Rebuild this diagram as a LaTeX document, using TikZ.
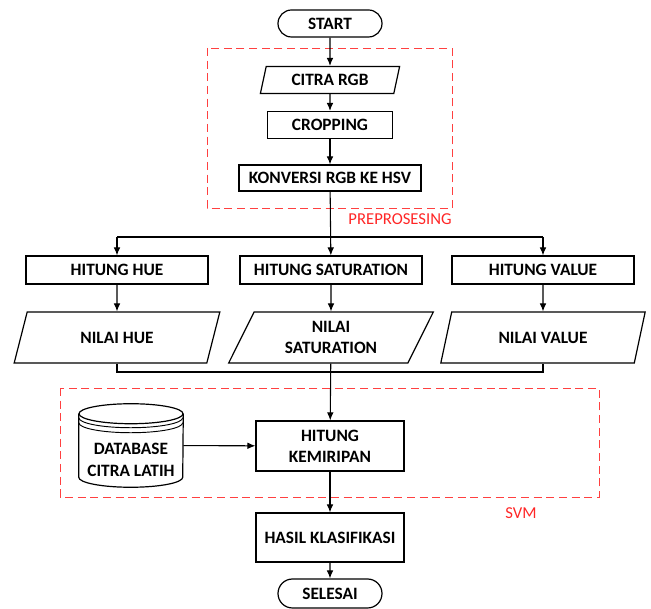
\documentclass[tikz,border=0pt]{standalone}
\usepackage{fontspec}
\setmainfont{Carlito}
\usetikzlibrary{positioning,calc,arrows.meta,shapes.geometric,shapes.misc}
\def\u{0.75pt}
\tikzset{
  arr/.style={-{Latex[length=6pt,width=5pt]},line width=0.8pt},
  link/.style={line width=0.8pt},
  procbox/.style={draw,line width=0.9pt,rectangle,align=center,inner sep=0pt},
  iobox/.style={draw,line width=0.9pt,trapezium,trapezium stretches=true,align=center,inner sep=0pt},
  termbox/.style={draw,line width=0.9pt,rounded rectangle,inner sep=0pt},
  zone/.style={draw=red!75,line width=0.7pt,dash pattern=on 6pt off 3.5pt},
  zonelabel/.style={text=red!85,font=\fontsize{12.5}{15}\selectfont},
}
\begin{document}
\begin{tikzpicture}[x=0.75pt,y=-0.75pt,font=\fontsize{13}{16}\selectfont\bfseries]
  \useasboundingbox (0,0) rectangle (651,609);
  % preprocessing
  \node[termbox,minimum width=104*\u,minimum height=27*\u] (start) at (330,23.5) {START};
  \node[iobox,trapezium left angle=73,trapezium right angle=107,minimum width=140*\u,minimum height=27*\u] (citra) at (330,80) {CITRA RGB};
  \node[procbox,minimum width=125*\u,minimum height=27*\u] (crop) at (330,125) {CROPPING};
  \node[procbox,minimum width=182*\u,minimum height=26*\u] (konv) at (330,178) {KONVERSI RGB KE HSV};
  \draw[zone] (207,48) rectangle (452,208);
  \node[zonelabel] (lprep) at (400,219) {PREPROSESING};
  \draw[arr] (start) -- (citra);
  \draw[arr] (citra) -- (crop);
  \draw[arr] (crop) -- (konv);
  % three channels
  \foreach \n/\x/\a/\b in {hue/117/{HITUNG HUE}/{NILAI HUE},sat/331/{HITUNG SATURATION}/{NILAI\\SATURATION},val/543/{HITUNG VALUE}/{NILAI VALUE}}{
    \node[procbox,minimum width=182*\u,minimum height=28*\u] (h\n) at (\x,270) {\a};
    \node[iobox,trapezium left angle=65,trapezium right angle=115,minimum width=206*\u,minimum height=51*\u] (n\n) at (\x,337.5) {\b};
    \draw[arr] (h\n) -- (n\n);
  }
  \coordinate (split) at (330,237);
  \coordinate (join) at (330,372);
  \draw[arr] (konv) -- (hsat);
  \draw[link] (hhue.north |- split) -- (hval.north |- split);
  \draw[arr] (hhue.north |- split) -- (hhue);
  \draw[arr] (hval.north |- split) -- (hval);
  \draw[link] (nhue.south) -- (nhue.south |- join) -- (nval.south |- join) -- (nval.south);
  % svm
  \draw[zone] (60,388) rectangle (599,497);
  \node[zonelabel] (lsvm) at (521,513) {SVM};
  \node[procbox,minimum width=148*\u,minimum height=50*\u] (kemir) at (330,446) {HITUNG\\KEMIRIPAN};
  \node[inner sep=0pt,minimum width=104*\u,minimum height=83*\u] (db) at (131,445.5) {};
  \node[align=center,inner sep=0pt] (dbtext) at (131,460) {DATABASE\\CITRA LATIH};
  \draw[line width=0.9pt] ($(db.north west)+(0,10)$) -- ($(db.south west)+(0,-10)$)
    arc[start angle=180,end angle=360,x radius=39pt,y radius=7.5pt] -- ($(db.north east)+(0,10)$);
  \draw[line width=0.9pt] ($(db.north)+(0,10)$) ellipse[x radius=39pt,y radius=7.5pt];
  \foreach \d in {14,19}
    \draw[line width=0.7pt] ($(db.north west)+(0,\d)$) arc[start angle=180,end angle=360,x radius=39pt,y radius=7.5pt];
  \draw[arr] (nsat) -- (kemir);
  \draw[arr] (db) -- (kemir);
  % result
  \node[procbox,minimum width=148*\u,minimum height=49*\u] (hasil) at (330,537.5) {HASIL KLASIFIKASI};
  \node[termbox,minimum width=104*\u,minimum height=29*\u] (selesai) at (330,593.5) {SELESAI};
  \draw[arr] (kemir) -- (hasil);
  \draw[arr] (hasil) -- (selesai);
\end{tikzpicture}
\end{document}
